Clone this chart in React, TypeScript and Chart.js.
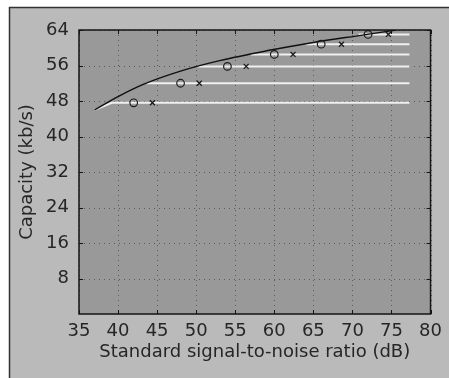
import React, { useEffect, useRef } from 'react';
import { Chart, registerables } from 'chart.js';

Chart.register(...registerables);

// ---- data ----
const xTickValues = [35, 40, 45, 50, 55, 60, 65, 70, 75, 80];
const yTickValues = [8, 16, 24, 32, 40, 48, 56, 64];
const curveSnr = [37.0, 40, 43.3, 48.3, 53, 59, 65, 71.5, 75.6];
const curveCapacity = [46.0, 49.0, 51.8, 54.9, 57.1, 59.3, 61.2, 62.9, 64.0];
const levelCapacity = [47.6, 52.0, 55.8, 58.5, 60.8, 63.0];
const levelStartSnr = [39.2, 43.6, 50.2, 57.0, 64.0, 70.8];
const levelEndSnr = 77.3;
const circleSnr = [42, 48, 54, 60, 66, 72];
const crossSnr = [44.4, 50.4, 56.4, 62.4, 68.6, 74.6];

const FONT = '"DejaVu Sans", sans-serif';
const TEXT = '#262626';

const framePlugin = {
  id: 'frame',
  beforeDraw(chart: any) {
    const { ctx, chartArea: a, scales } = chart;
    ctx.save();
    ctx.fillStyle = '#bababa';
    ctx.fillRect(9, 7, chart.width - 9, chart.height - 7);
    ctx.strokeStyle = '#333';
    ctx.lineWidth = 1.5;
    ctx.beginPath();
    ctx.moveTo(9.5, chart.height);
    ctx.lineTo(9.5, 7.5);
    ctx.lineTo(chart.width, 7.5);
    ctx.stroke();
    ctx.fillStyle = '#999999';
    ctx.fillRect(a.left, a.top, a.right - a.left, a.bottom - a.top);
    // dotted grid
    ctx.strokeStyle = 'rgba(25,25,25,0.5)';
    ctx.lineWidth = 1;
    ctx.setLineDash([1, 4]);
    yTickValues.forEach((v) => {
      const y = Math.round(scales.y.getPixelForValue(v)) + 0.5;
      ctx.beginPath();
      ctx.moveTo(a.left, y);
      ctx.lineTo(a.right, y);
      ctx.stroke();
    });
    xTickValues.forEach((v) => {
      const x = Math.round(scales.x.getPixelForValue(v)) + 0.5;
      ctx.beginPath();
      ctx.moveTo(x, a.top);
      ctx.lineTo(x, a.bottom);
      ctx.stroke();
    });
    ctx.restore();
  },
  afterDatasetsDraw(chart: any) {
    const { ctx, chartArea: a, scales } = chart;
    ctx.save();
    ctx.strokeStyle = '#151515';
    ctx.lineWidth = 1.5;
    ctx.strokeRect(a.left, a.top, a.right - a.left, a.bottom - a.top);
    ctx.lineWidth = 1;
    const t = 4;
    xTickValues.forEach((v) => {
      const x = Math.round(scales.x.getPixelForValue(v)) + 0.5;
      ctx.beginPath();
      ctx.moveTo(x, a.top);
      ctx.lineTo(x, a.top + t);
      ctx.moveTo(x, a.bottom);
      ctx.lineTo(x, a.bottom - t);
      ctx.stroke();
    });
    yTickValues.forEach((v) => {
      const y = Math.round(scales.y.getPixelForValue(v)) + 0.5;
      ctx.beginPath();
      ctx.moveTo(a.left, y);
      ctx.lineTo(a.left + t, y);
      ctx.moveTo(a.right, y);
      ctx.lineTo(a.right - t, y);
      ctx.stroke();
    });
    ctx.restore();
  },
};

export default function App() {
  const ref = useRef<HTMLCanvasElement | null>(null);

  useEffect(() => {
    if (!ref.current) return;

    const levelSets = levelCapacity.map((lvl, i) => {
      const pts: { x: number; y: number }[] = [];
      if (i === 0) pts.push({ x: curveSnr[0], y: curveCapacity[0] });
      pts.push({ x: levelStartSnr[i], y: lvl });
      pts.push({ x: levelEndSnr, y: lvl });
      return {
        type: 'line' as const,
        data: pts,
        showLine: true,
        borderColor: '#f0f0f0',
        borderWidth: 2,
        pointRadius: 0,
        tension: 0,
        order: 2,
      };
    });

    const chart = new Chart(ref.current, {
      type: 'scatter',
      data: {
        datasets: [
          {
            type: 'line',
            data: curveSnr.map((x, i) => ({ x, y: curveCapacity[i] })),
            showLine: true,
            borderColor: '#111',
            borderWidth: 1.5,
            pointRadius: 0,
            cubicInterpolationMode: 'monotone',
            order: 1,
          } as any,
          ...levelSets,
          {
            data: circleSnr.map((x, i) => ({ x, y: levelCapacity[i] })),
            pointStyle: 'circle',
            pointRadius: 3.8,
            borderColor: '#1a1a1a',
            backgroundColor: 'rgba(0,0,0,0)',
            borderWidth: 1.2,
            order: 0,
          },
          {
            data: crossSnr.map((x, i) => ({ x, y: levelCapacity[i] })),
            pointStyle: 'crossRot',
            pointRadius: 3.5,
            borderColor: '#1a1a1a',
            borderWidth: 1.3,
            order: 0,
          },
        ],
      },
      options: {
        animation: false,
        responsive: false,
        maintainAspectRatio: false,
        layout: { padding: { top: 30, right: 11, left: 0, bottom: 0 } },
        plugins: { legend: { display: false }, tooltip: { enabled: false } },
        scales: {
          x: {
            type: 'linear',
            min: 35,
            max: 80,
            afterFit: (s: any) => { s.height = 64; },
            afterBuildTicks: (s: any) => { s.ticks = xTickValues.map((v) => ({ value: v })); },
            ticks: { color: TEXT, font: { family: FONT, size: 18 }, padding: 7, maxRotation: 0, autoSkip: false },
            grid: { display: false, drawTicks: false },
            border: { display: false },
            title: {
              display: true,
              text: 'Standard signal-to-noise ratio (dB)',
              color: TEXT,
              font: { family: FONT, size: 18 },
              padding: { top: 0, bottom: 15 },
            },
          },
          y: {
            type: 'linear',
            min: 0,
            max: 64,
            afterFit: (s: any) => { s.width = 79; },
            afterBuildTicks: (s: any) => { s.ticks = [0, ...yTickValues].map((v) => ({ value: v })); },
            ticks: {
              color: TEXT,
              font: { family: FONT, size: 18 },
              padding: 10,
              autoSkip: false,
              callback: (v: any) => (v === 0 ? '' : String(v)),
            },
            grid: { display: false, drawTicks: false },
            border: { display: false },
            title: {
              display: true,
              text: 'Capacity (kb/s)',
              color: TEXT,
              font: { family: FONT, size: 18 },
              padding: { top: 17, bottom: 0 },
            },
          },
        },
      },
      plugins: [framePlugin],
    } as any);

    return () => chart.destroy();
  }, []);

  return (
    <div style={{ position: 'absolute', left: 0, top: 0, width: 449, height: 378, background: '#fff' }}>
      <canvas ref={ref} width={449} height={378} style={{ width: 449, height: 378, display: 'block' }} />
    </div>
  );
}
